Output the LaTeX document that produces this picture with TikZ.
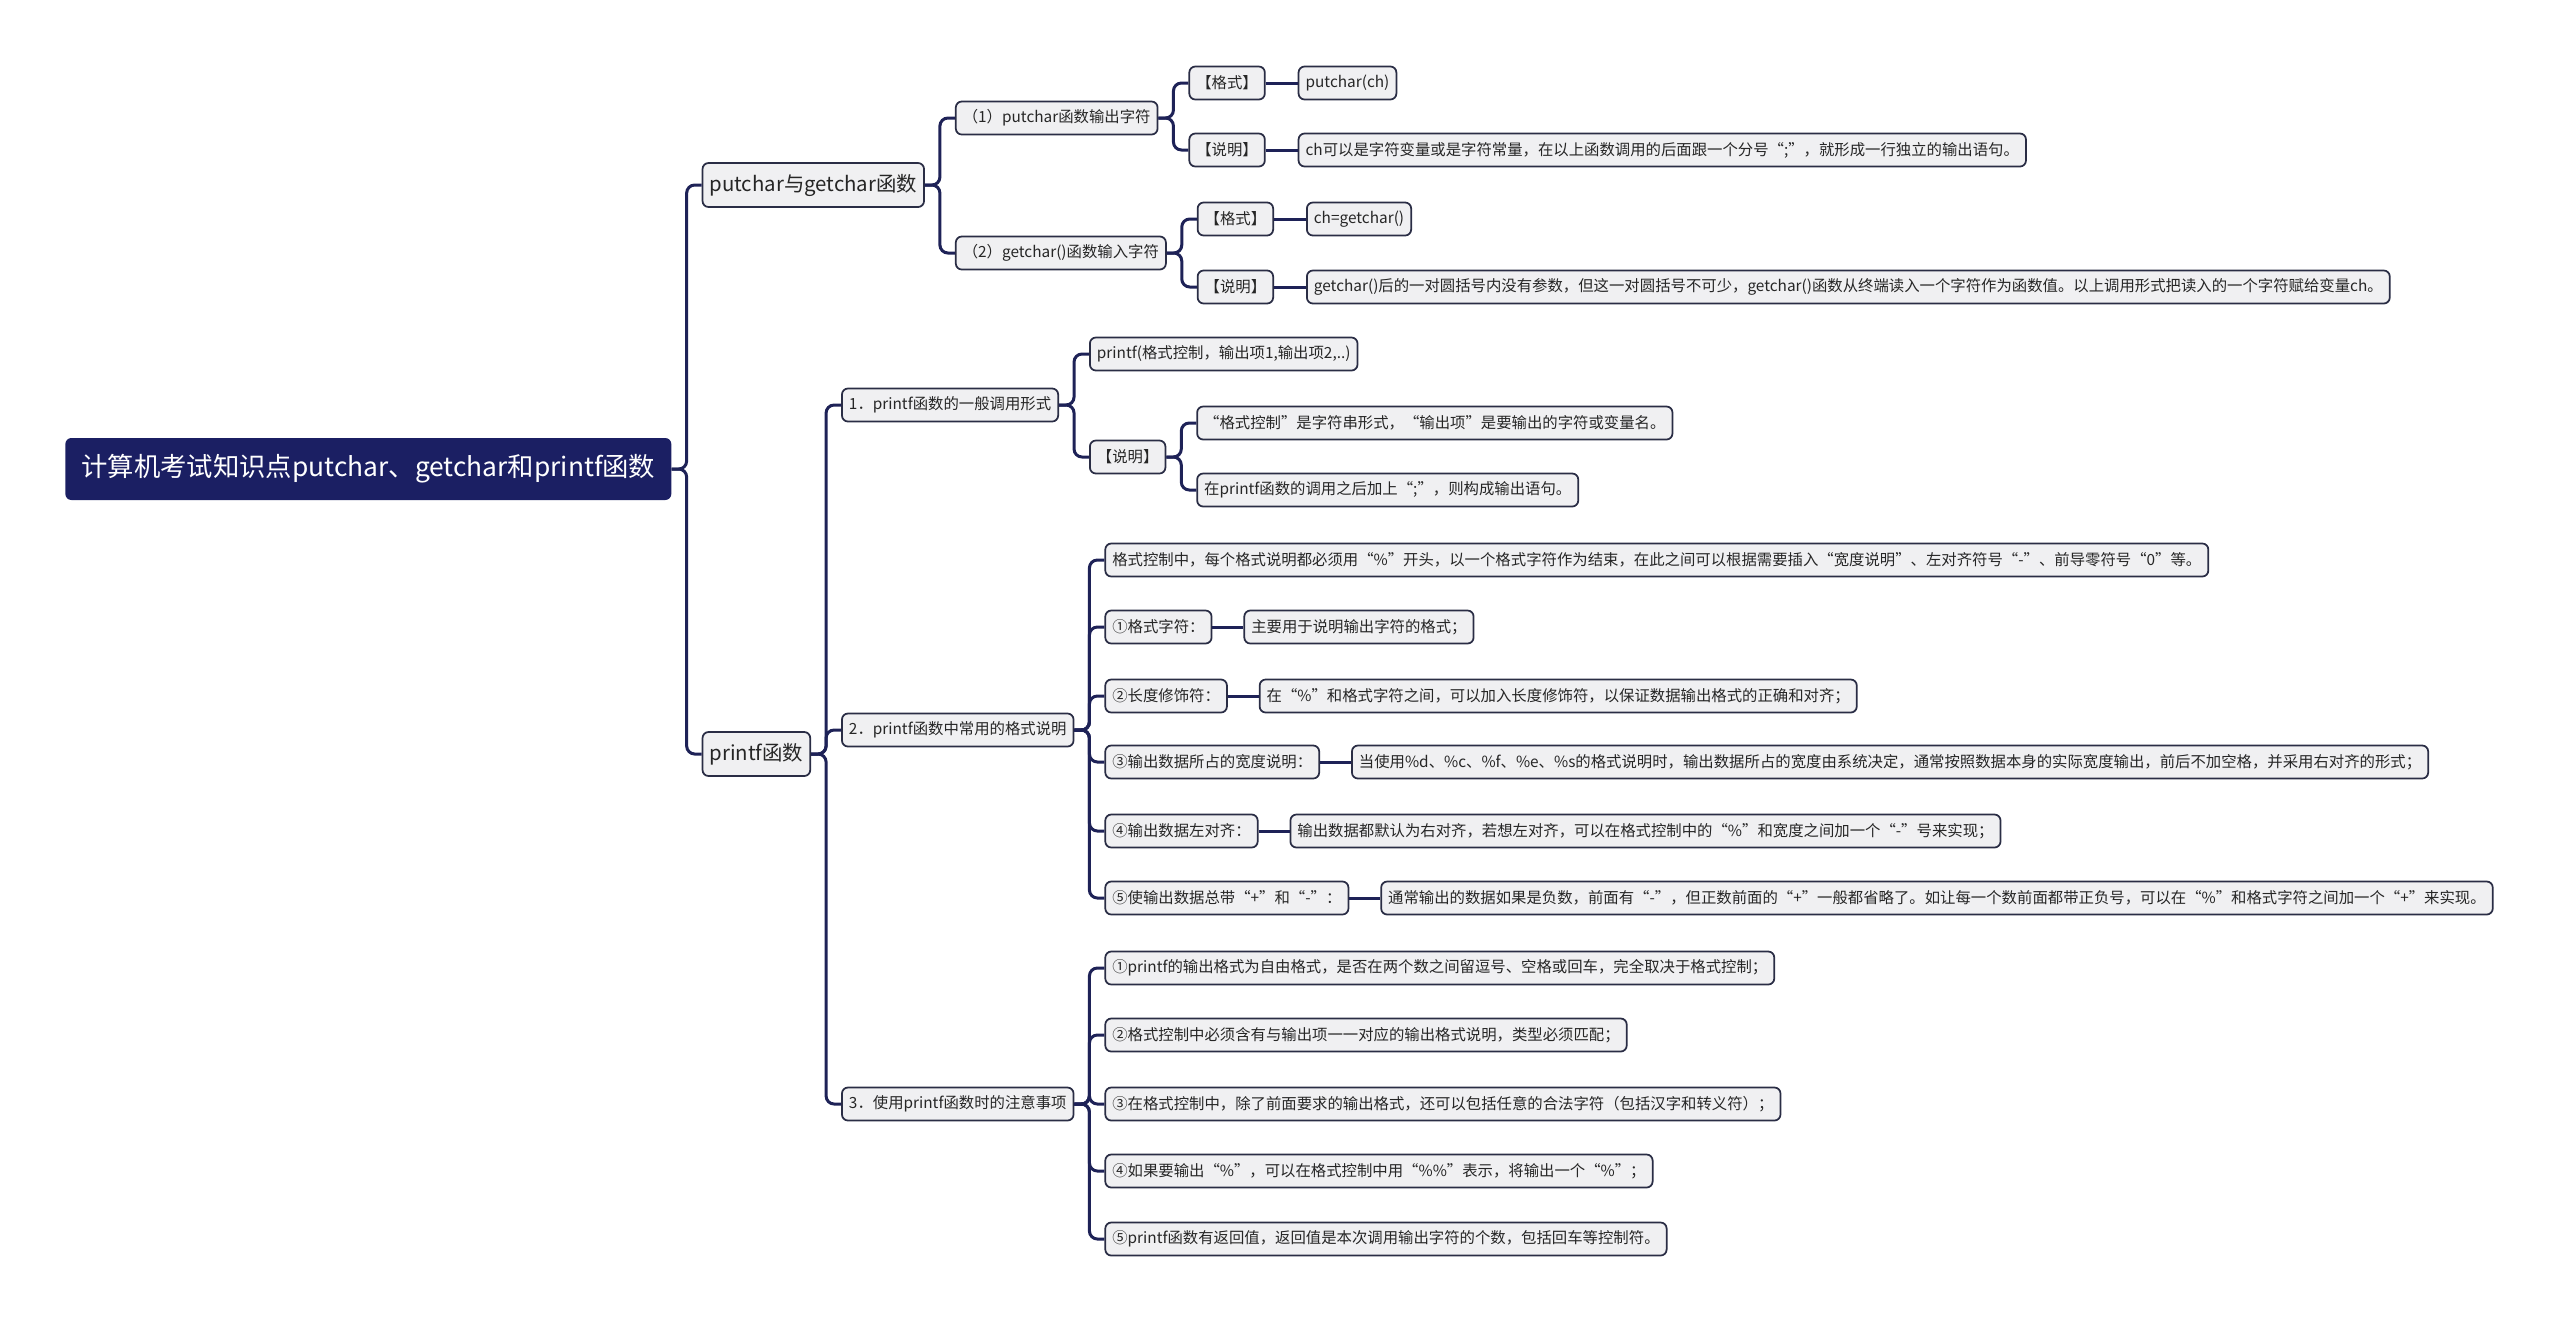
\documentclass[tikz,border=0pt]{standalone}
\usepackage{fontspec}
\setmainfont{Noto Sans CJK SC}
\usetikzlibrary{positioning, calc}

\definecolor{navy}{HTML}{1B1F63}
\definecolor{linknavy}{HTML}{1E2257}
\definecolor{boxgray}{HTML}{F0F0F2}
\definecolor{boxline}{HTML}{2A2D45}

\tikzset{
  topic/.style={rectangle, rounded corners=1.2mm, draw=boxline, line width=0.35mm, fill=boxgray, text=black!85, font=\fontsize{8.75}{11}\selectfont, minimum height=6.6mm, inner xsep=1.4mm, inner ysep=0.6mm},
  maintopic/.style={topic, font=\fontsize{11.6}{13}\selectfont, minimum height=8.8mm},
  rootbox/.style={rectangle, rounded corners=1.2mm, fill=navy, text=white, font=\fontsize{15}{17}\selectfont, minimum height=12.4mm, inner xsep=3.2mm},
  child/.style={anchor=west, xshift=6mm},
  link/.style={draw=linknavy, line width=0.6mm, rounded corners=1.6mm},
}

\begin{document}
\begin{tikzpicture}[x=0.2mm, y=-0.2mm]
\useasboundingbox (0,0) rectangle (2560,1323);

% root and main branches
\node[rootbox, anchor=west] (root) at (65,469) {计算机考试知识点putchar、getchar和printf函数};
\node[maintopic, child] (pg) at (root.east |- 0,185) {putchar与getchar函数};
\node[maintopic, child] (pf) at (root.east |- 0,754) {printf函数};

% putchar / getchar
\node[topic, child] (pg1) at (pg.east |- 0,118) {（1）putchar函数输出字符};
\node[topic, child] (pg2) at (pg.east |- 0,253) {（2）getchar()函数输入字符};
\node[topic, child] (pg1a) at (pg1.east |- 0,83) {【格式】};
\node[topic, right=6.4mm of pg1a] (pg1av) {putchar(ch)};
\node[topic, child] (pg1b) at (pg1.east |- 0,150) {【说明】};
\node[topic, right=6.4mm of pg1b] (pg1bv) {ch可以是字符变量或是字符常量，在以上函数调用的后面跟一个分号“;”，就形成一行独立的输出语句。};
\node[topic, child] (pg2a) at (pg2.east |- 0,219) {【格式】};
\node[topic, right=6.4mm of pg2a] (pg2av) {ch=getchar()};
\node[topic, child] (pg2b) at (pg2.east |- 0,287) {【说明】};
\node[topic, right=6.4mm of pg2b] (pg2bv) {getchar()后的一对圆括号内没有参数，但这一对圆括号不可少，getchar()函数从终端读入一个字符作为函数值。以上调用形式把读入的一个字符赋给变量ch。};

% printf
\node[topic, child] (pf1) at (pf.east |- 0,405) {1．printf函数的一般调用形式};
\node[topic, child] (pf2) at (pf.east |- 0,730) {2．printf函数中常用的格式说明};
\node[topic, child] (pf3) at (pf.east |- 0,1104) {3．使用printf函数时的注意事项};

\node[topic, child] (pf1a) at (pf1.east |- 0,354) {printf(格式控制，输出项1,输出项2,..)};
\node[topic, child] (pf1b) at (pf1.east |- 0,457) {【说明】};
\node[topic, child] (pf1b1) at (pf1b.east |- 0,423) {“格式控制”是字符串形式，“输出项”是要输出的字符或变量名。};
\node[topic, child] (pf1b2) at (pf1b.east |- 0,490) {在printf函数的调用之后加上“;”，则构成输出语句。};

\node[topic, child] (pf2a) at (pf2.east |- 0,560) {格式控制中，每个格式说明都必须用“\%”开头，以一个格式字符作为结束，在此之间可以根据需要插入“宽度说明”、左对齐符号“-”、前导零符号“0”等。};
\node[topic, child] (pf2b) at (pf2.east |- 0,627) {①格式字符：};
\node[topic, right=6.2mm of pf2b] (pf2bv) {主要用于说明输出字符的格式；};
\node[topic, child] (pf2c) at (pf2.east |- 0,696) {②长度修饰符：};
\node[topic, right=6.2mm of pf2c] (pf2cv) {在“\%”和格式字符之间，可以加入长度修饰符，以保证数据输出格式的正确和对齐；};
\node[topic, child] (pf2d) at (pf2.east |- 0,762) {③输出数据所占的宽度说明：};
\node[topic, right=6.2mm of pf2d] (pf2dv) {当使用\%d、\%c、\%f、\%e、\%s的格式说明时，输出数据所占的宽度由系统决定，通常按照数据本身的实际宽度输出，前后不加空格，并采用右对齐的形式；};
\node[topic, child] (pf2e) at (pf2.east |- 0,831) {④输出数据左对齐：};
\node[topic, right=6.2mm of pf2e] (pf2ev) {输出数据都默认为右对齐，若想左对齐，可以在格式控制中的“\%”和宽度之间加一个“-”号来实现；};
\node[topic, child] (pf2f) at (pf2.east |- 0,898) {⑤使输出数据总带“+”和“-”：};
\node[topic, right=6.2mm of pf2f] (pf2fv) {通常输出的数据如果是负数，前面有“-”，但正数前面的“+”一般都省略了。如让每一个数前面都带正负号，可以在“\%”和格式字符之间加一个“+”来实现。};

\node[topic, child] (pf3a) at (pf3.east |- 0,968) {①printf的输出格式为自由格式，是否在两个数之间留逗号、空格或回车，完全取决于格式控制；};
\node[topic, child] (pf3b) at (pf3.east |- 0,1035) {②格式控制中必须含有与输出项一一对应的输出格式说明，类型必须匹配；};
\node[topic, child] (pf3c) at (pf3.east |- 0,1104) {③在格式控制中，除了前面要求的输出格式，还可以包括任意的合法字符（包括汉字和转义符）；};
\node[topic, child] (pf3d) at (pf3.east |- 0,1171) {④如果要输出“\%”，可以在格式控制中用“\%\%”表示，将输出一个“\%”；};
\node[topic, child] (pf3e) at (pf3.east |- 0,1239) {⑤printf函数有返回值，返回值是本次调用输出字符的个数，包括回车等控制符。};

% connectors
\draw[link] (root.east) -- ++(15,0) |- (pg.west);
\draw[link] (root.east) -- ++(15,0) |- (pf.west);
\draw[link] (pg.east) -- ++(15,0) |- (pg1.west);
\draw[link] (pg.east) -- ++(15,0) |- (pg2.west);
\draw[link] (pg1.east) -- ++(15,0) |- (pg1a.west);
\draw[link] (pg1.east) -- ++(15,0) |- (pg1b.west);
\draw[link] (pg2.east) -- ++(15,0) |- (pg2a.west);
\draw[link] (pg2.east) -- ++(15,0) |- (pg2b.west);
\draw[link] (pg1a) -- (pg1av);
\draw[link] (pg1b) -- (pg1bv);
\draw[link] (pg2a) -- (pg2av);
\draw[link] (pg2b) -- (pg2bv);
\draw[link] (pf.east) -- ++(15,0) |- (pf1.west);
\draw[link] (pf.east) -- ++(15,0) |- (pf2.west);
\draw[link] (pf.east) -- ++(15,0) |- (pf3.west);
\draw[link] (pf1.east) -- ++(15,0) |- (pf1a.west);
\draw[link] (pf1.east) -- ++(15,0) |- (pf1b.west);
\draw[link] (pf1b.east) -- ++(15,0) |- (pf1b1.west);
\draw[link] (pf1b.east) -- ++(15,0) |- (pf1b2.west);
\draw[link] (pf2.east) -- ++(15,0) |- (pf2a.west);
\draw[link] (pf2.east) -- ++(15,0) |- (pf2b.west);
\draw[link] (pf2.east) -- ++(15,0) |- (pf2c.west);
\draw[link] (pf2.east) -- ++(15,0) |- (pf2d.west);
\draw[link] (pf2.east) -- ++(15,0) |- (pf2e.west);
\draw[link] (pf2.east) -- ++(15,0) |- (pf2f.west);
\draw[link] (pf2b) -- (pf2bv);
\draw[link] (pf2c) -- (pf2cv);
\draw[link] (pf2d) -- (pf2dv);
\draw[link] (pf2e) -- (pf2ev);
\draw[link] (pf2f) -- (pf2fv);
\draw[link] (pf3.east) -- ++(15,0) |- (pf3a.west);
\draw[link] (pf3.east) -- ++(15,0) |- (pf3b.west);
\draw[link] (pf3.east) -- ++(15,0) |- (pf3c.west);
\draw[link] (pf3.east) -- ++(15,0) |- (pf3d.west);
\draw[link] (pf3.east) -- ++(15,0) |- (pf3e.west);
\end{tikzpicture}
\end{document}
